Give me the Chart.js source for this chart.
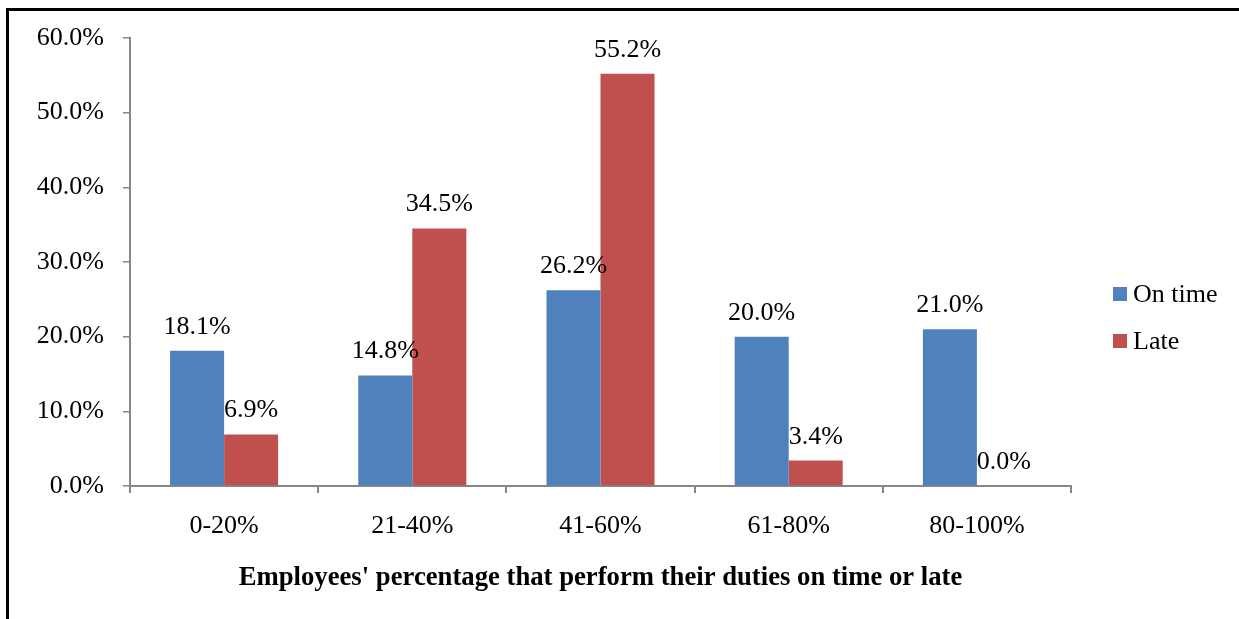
<!DOCTYPE html>
<html>
<head>
<meta charset="utf-8">
<style>
  html, body { margin: 0; padding: 0; background: #fff; overflow: hidden; }
  canvas { display: block; }
</style>
<script src="https://cdn.jsdelivr.net/npm/chart.js@4/dist/chart.umd.min.js"></script>
</head>
<body>
<canvas id="c" width="1239" height="619"></canvas>
<script>
const categories = ['0-20%', '21-40%', '41-60%', '61-80%', '80-100%'];
const onTime = [18.1, 14.8, 26.2, 20.0, 21.0];
const late = [6.9, 34.5, 55.2, 3.4, 0.0];
const seriesNames = ['On time', 'Late'];
const yTicks = [0, 10, 20, 30, 40, 50, 60];
const axisTitle = "Employees' percentage that perform their duties on time or late";

const FONT = '"Liberation Serif", "Times New Roman", serif';
const AXIS_GRAY = '#868686';

const framePlugin = {
  id: 'frame',
  beforeDraw(chart) {
    const ctx = chart.ctx;
    ctx.save();
    ctx.fillStyle = '#fff';
    ctx.fillRect(0, 0, chart.width, chart.height);
    ctx.fillStyle = '#000';
    ctx.fillRect(6, 8, 3, chart.height - 8);
    ctx.fillRect(6, 8, chart.width - 6, 3);
    ctx.restore();
  }
};

const valueLabels = {
  id: 'valueLabels',
  afterDatasetsDraw(chart) {
    const ctx = chart.ctx;
    ctx.save();
    ctx.font = '26px ' + FONT;
    ctx.fillStyle = '#000';
    ctx.textAlign = 'center';
    ctx.textBaseline = 'alphabetic';
    chart.data.datasets.forEach((ds, i) => {
      const meta = chart.getDatasetMeta(i);
      meta.data.forEach((bar, j) => {
        const v = ds.data[j];
        ctx.fillText(v.toFixed(1) + '%', bar.x, bar.y - 17);
      });
    });
    ctx.restore();
  }
};

const sideLegend = {
  id: 'sideLegend',
  afterDraw(chart) {
    const ctx = chart.ctx;
    ctx.save();
    ctx.font = '26px ' + FONT;
    ctx.textBaseline = 'middle';
    ctx.textAlign = 'left';
    const x = chart.chartArea.right + 42;
    const y0 = 294;
    const step = 47;
    chart.data.datasets.forEach((ds, i) => {
      const cy = y0 + i * step;
      ctx.fillStyle = ds.backgroundColor;
      ctx.fillRect(x, cy - 7, 14, 14);
      ctx.fillStyle = '#000';
      ctx.fillText(ds.label, x + 20, cy + 1);
    });
    ctx.restore();
  }
};

new Chart(document.getElementById('c'), {
  type: 'bar',
  data: {
    labels: categories,
    datasets: [
      { label: seriesNames[0], data: onTime, backgroundColor: '#4F81BD', borderWidth: 0 },
      { label: seriesNames[1], data: late, backgroundColor: '#C0504D', borderWidth: 0 }
    ]
  },
  options: {
    responsive: false,
    animation: false,
    devicePixelRatio: 1,
    categoryPercentage: 0.574,
    barPercentage: 1.0,
    layout: { padding: { left: 0, top: 38, right: 168, bottom: 0 } },
    plugins: {
      legend: { display: false },
      tooltip: { enabled: false },
      title: { display: false }
    },
    scales: {
      x: {
        grid: { display: true, drawOnChartArea: false, drawTicks: true, tickLength: 7, color: AXIS_GRAY, lineWidth: 2, offset: true },
        border: { display: true, color: AXIS_GRAY, width: 2 },
        ticks: { color: '#000', font: { family: FONT, size: 26 }, padding: 18, maxRotation: 0 },
        title: { display: true, text: axisTitle, color: '#000', font: { family: FONT, size: 26.7, weight: 'bold' }, padding: { top: 0, bottom: 25 } },
        afterFit(scale) { scale.height = 133; }
      },
      y: {
        min: 0, max: 60,
        afterBuildTicks(scale) { scale.ticks = yTicks.map(v => ({ value: v })); },
        grid: { display: true, drawOnChartArea: false, drawTicks: true, tickLength: 7, color: AXIS_GRAY, lineWidth: 1.5 },
        border: { display: true, color: AXIS_GRAY, width: 2 },
        ticks: { color: '#000', font: { family: FONT, size: 26 }, padding: 19, callback: v => Number(v).toFixed(1) + '%' },
        afterFit(scale) { scale.width = 130; }
      }
    }
  },
  plugins: [framePlugin, valueLabels, sideLegend]
});
</script>
</body>
</html>
